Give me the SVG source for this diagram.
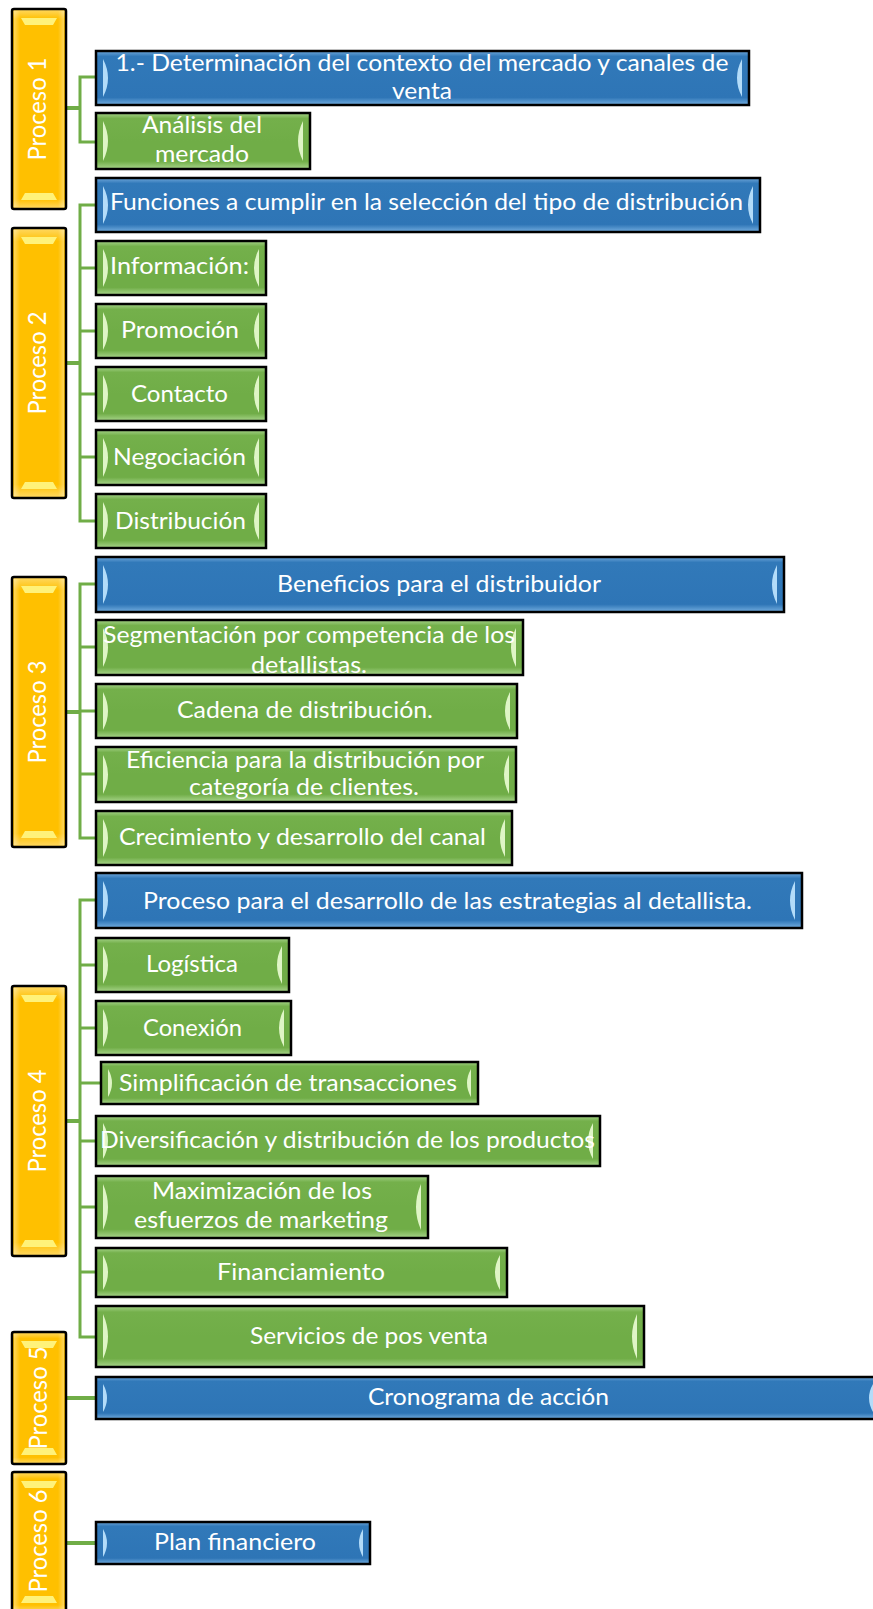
<svg xmlns="http://www.w3.org/2000/svg" width="873" height="1609" viewBox="0 0 873 1609">
  <defs>
    <linearGradient id="gGreen" x1="0" y1="0" x2="0" y2="1">
      <stop offset="0" stop-color="#a6d38a"/>
      <stop offset="0.1" stop-color="#74b04b"/>
      <stop offset="0.5" stop-color="#70AD47"/>
      <stop offset="0.86" stop-color="#70AD47"/>
      <stop offset="1" stop-color="#a9d68c"/>
    </linearGradient>
    <linearGradient id="gBlue" x1="0" y1="0" x2="0" y2="1">
      <stop offset="0" stop-color="#6fa7da"/>
      <stop offset="0.1" stop-color="#3179b9"/>
      <stop offset="0.86" stop-color="#2E75B6"/>
      <stop offset="1" stop-color="#74aee0"/>
    </linearGradient>
    <linearGradient id="gOrange" x1="0" y1="0" x2="0" y2="1">
      <stop offset="0" stop-color="#FFD966"/>
      <stop offset="0.05" stop-color="#FFC000"/>
      <stop offset="0.95" stop-color="#FFC000"/>
      <stop offset="1" stop-color="#FFD966"/>
    </linearGradient>
    <linearGradient id="gSide" x1="0" y1="0" x2="1" y2="0">
      <stop offset="0" stop-color="#fff" stop-opacity="0.35"/>
      <stop offset="0.12" stop-color="#fff" stop-opacity="0"/>
      <stop offset="0.88" stop-color="#fff" stop-opacity="0"/>
      <stop offset="1" stop-color="#fff" stop-opacity="0.35"/>
    </linearGradient>
    <style>
      .box{stroke:#000;stroke-width:2.5}
      .g{fill:url(#gGreen)}
      .b{fill:url(#gBlue)}
      .o{fill:url(#gOrange)}
      .side{fill:url(#gSide);stroke:none}
      .hg{fill:#dff5c6}
      .hb{fill:#b3dcf9}
      .ho{fill:#fff27a}
      .t{font-family:Lato,"Liberation Sans",sans-serif;font-size:23.5px;fill:#fff;text-anchor:middle}
      .pt{font-size:25px}
      .cn{fill:none;stroke:#70AD47;stroke-width:3}
      .stub{fill:none;stroke:#70AD47;stroke-width:4}
    </style>
  </defs>
  <rect width="873" height="1609" fill="#fff"/>

  <!-- tree connectors -->
  <g id="connectors">
    <path class="stub" d="M66 108 H80"/>
    <path class="cn" d="M96 77 H80 V142 H96"/>
    <path class="stub" d="M66 363 H80"/>
    <path class="cn" d="M96 205 H80 V521 H96 M80 268 H96 M80 331 H96 M80 394 H96 M80 457 H96"/>
    <path class="stub" d="M66 712 H80"/>
    <path class="cn" d="M96 584 H80 V838 H96 M80 647 H96 M80 711 H96 M80 774 H96"/>
    <path class="stub" d="M66 1121 H80"/>
    <path class="cn" d="M96 900 H80 V1337 H96 M80 965 H96 M80 1028 H96 M80 1083 H101 M80 1141 H96 M80 1207 H96 M80 1272 H96"/>
    <path class="stub" d="M66 1398 H96"/>
    <path class="stub" d="M66 1543 H96"/>
  </g>

  <!-- process headers -->
  <g id="proceso1">
    <rect class="box o" x="12" y="9" width="54" height="200" rx="2"/>
    <rect class="side" x="14" y="11" width="50" height="196"/>
    <path class="ho" d="M21 18 L57 18 L53 25 L25 25 Z M25 193 L53 193 L57 200 L21 200 Z"/>
    <text class="t pt" transform="translate(46,109) rotate(-90)" textLength="103" lengthAdjust="spacingAndGlyphs">Proceso 1</text>
  </g>
  <g id="proceso2">
    <rect class="box o" x="12" y="228" width="54" height="270" rx="2"/>
    <rect class="side" x="14" y="230" width="50" height="266"/>
    <path class="ho" d="M21 237 L57 237 L53 244 L25 244 Z M25 482 L53 482 L57 489 L21 489 Z"/>
    <text class="t pt" transform="translate(46,363) rotate(-90)" textLength="103" lengthAdjust="spacingAndGlyphs">Proceso 2</text>
  </g>
  <g id="proceso3">
    <rect class="box o" x="12" y="577" width="54" height="270" rx="2"/>
    <rect class="side" x="14" y="579" width="50" height="266"/>
    <path class="ho" d="M21 586 L57 586 L53 593 L25 593 Z M25 831 L53 831 L57 838 L21 838 Z"/>
    <text class="t pt" transform="translate(46,712) rotate(-90)" textLength="103" lengthAdjust="spacingAndGlyphs">Proceso 3</text>
  </g>
  <g id="proceso4">
    <rect class="box o" x="12" y="986" width="54" height="270" rx="2"/>
    <rect class="side" x="14" y="988" width="50" height="266"/>
    <path class="ho" d="M21 995 L57 995 L53 1002 L25 1002 Z M25 1240 L53 1240 L57 1247 L21 1247 Z"/>
    <text class="t pt" transform="translate(46,1121) rotate(-90)" textLength="103" lengthAdjust="spacingAndGlyphs">Proceso 4</text>
  </g>
  <g id="proceso5">
    <rect class="box o" x="12" y="1332" width="54" height="132" rx="2"/>
    <rect class="side" x="14" y="1334" width="50" height="128"/>
    <path class="ho" d="M21 1341 L57 1341 L53 1348 L25 1348 Z M25 1448 L53 1448 L57 1455 L21 1455 Z"/>
    <text class="t pt" transform="translate(47,1398) rotate(-90)" textLength="103" lengthAdjust="spacingAndGlyphs">Proceso 5</text>
  </g>
  <g id="proceso6">
    <rect class="box o" x="12" y="1472" width="54" height="140" rx="2"/>
    <rect class="side" x="14" y="1474" width="50" height="136"/>
    <path class="ho" d="M21 1481 L57 1481 L53 1488 L25 1488 Z M25 1596 L53 1596 L57 1603 L21 1603 Z"/>
    <text class="t pt" transform="translate(47,1541) rotate(-90)" textLength="103" lengthAdjust="spacingAndGlyphs">Proceso 6</text>
  </g>

  <!-- Proceso 1 items -->
  <g id="contexto">
    <rect class="box b" x="96" y="51" width="653" height="54"/>
    <path class="hb" d="M103 59 Q113 78 103 97 Z M742 59 Q732 78 742 97 Z"/>
    <text class="t" x="422" y="71" textLength="613" lengthAdjust="spacingAndGlyphs">1.- Determinación del contexto del mercado y canales de</text>
    <text class="t" x="422" y="99" textLength="60" lengthAdjust="spacingAndGlyphs">venta</text>
  </g>
  <g id="analisis">
    <rect class="box g" x="96" y="113" width="214" height="56"/>
    <path class="hg" d="M103 121 Q113 141 103 161 Z M303 121 Q293 141 303 161 Z"/>
    <text class="t" x="202" y="133" textLength="120" lengthAdjust="spacingAndGlyphs">Análisis del</text>
    <text class="t" x="202" y="162" textLength="94" lengthAdjust="spacingAndGlyphs">mercado</text>
  </g>

  <!-- Proceso 2 items -->
  <g id="funciones">
    <rect class="box b" x="96" y="178" width="664" height="54"/>
    <path class="hb" d="M103 186 Q113 205 103 224 Z M753 186 Q743 205 753 224 Z"/>
    <text class="t" x="426.5" y="210" textLength="633" lengthAdjust="spacingAndGlyphs">Funciones a cumplir en la selección del tipo de distribución</text>
  </g>
  <g id="informacion">
    <rect class="box g" x="96" y="241" width="170" height="54"/>
    <path class="hg" d="M103 249 Q113 268 103 287 Z M259 249 Q249 268 259 287 Z"/>
    <text class="t" x="179.5" y="274" textLength="139" lengthAdjust="spacingAndGlyphs">Información:</text>
  </g>
  <g id="promocion">
    <rect class="box g" x="96" y="304" width="170" height="54"/>
    <path class="hg" d="M103 312 Q113 331 103 350 Z M259 312 Q249 331 259 350 Z"/>
    <text class="t" x="180" y="338" textLength="118" lengthAdjust="spacingAndGlyphs">Promoción</text>
  </g>
  <g id="contacto">
    <rect class="box g" x="96" y="367" width="170" height="54"/>
    <path class="hg" d="M103 375 Q113 394 103 413 Z M259 375 Q249 394 259 413 Z"/>
    <text class="t" x="179.5" y="402" textLength="97" lengthAdjust="spacingAndGlyphs">Contacto</text>
  </g>
  <g id="negociacion">
    <rect class="box g" x="96" y="430" width="170" height="55"/>
    <path class="hg" d="M103 438 Q113 457.5 103 477 Z M259 438 Q249 457.5 259 477 Z"/>
    <text class="t" x="179.5" y="465" textLength="133" lengthAdjust="spacingAndGlyphs">Negociación</text>
  </g>
  <g id="distribucion">
    <rect class="box g" x="96" y="494" width="170" height="54"/>
    <path class="hg" d="M103 502 Q113 521 103 540 Z M259 502 Q249 521 259 540 Z"/>
    <text class="t" x="180.5" y="529" textLength="131" lengthAdjust="spacingAndGlyphs">Distribución</text>
  </g>

  <!-- Proceso 3 items -->
  <g id="beneficios">
    <rect class="box b" x="96" y="557" width="688" height="55"/>
    <path class="hb" d="M103 565 Q113 584.5 103 604 Z M777 565 Q767 584.5 777 604 Z"/>
    <text class="t" x="439" y="592" textLength="324" lengthAdjust="spacingAndGlyphs">Beneficios para el distribuidor</text>
  </g>
  <g id="segmentacion">
    <rect class="box g" x="96" y="620" width="427" height="55"/>
    <path class="hg" d="M103 628 Q113 647.5 103 667 Z M516 628 Q506 647.5 516 667 Z"/>
    <text class="t" x="309" y="643" textLength="412" lengthAdjust="spacingAndGlyphs">Segmentación por competencia de los</text>
    <text class="t" x="309" y="673" textLength="116" lengthAdjust="spacingAndGlyphs">detallistas.</text>
  </g>
  <g id="cadena">
    <rect class="box g" x="96" y="684" width="421" height="54"/>
    <path class="hg" d="M103 692 Q113 711 103 730 Z M510 692 Q500 711 510 730 Z"/>
    <text class="t" x="305" y="718" textLength="256" lengthAdjust="spacingAndGlyphs">Cadena de distribución.</text>
  </g>
  <g id="eficiencia">
    <rect class="box g" x="96" y="747" width="420" height="55"/>
    <path class="hg" d="M103 755 Q113 774.5 103 794 Z M509 755 Q499 774.5 509 794 Z"/>
    <text class="t" x="305" y="768" textLength="358" lengthAdjust="spacingAndGlyphs">Eficiencia para la distribución por</text>
    <text class="t" x="304" y="795" textLength="230" lengthAdjust="spacingAndGlyphs">categoría de clientes.</text>
  </g>
  <g id="crecimiento">
    <rect class="box g" x="96" y="811" width="416" height="54"/>
    <path class="hg" d="M103 819 Q113 838 103 857 Z M505 819 Q495 838 505 857 Z"/>
    <text class="t" x="302.5" y="845" textLength="367" lengthAdjust="spacingAndGlyphs">Crecimiento y desarrollo del canal</text>
  </g>

  <!-- Proceso 4 items -->
  <g id="estrategias">
    <rect class="box b" x="96" y="873" width="706" height="55"/>
    <path class="hb" d="M103 881 Q113 900.5 103 920 Z M795 881 Q785 900.5 795 920 Z"/>
    <text class="t" x="447.5" y="909" textLength="609" lengthAdjust="spacingAndGlyphs">Proceso para el desarrollo de las estrategias al detallista.</text>
  </g>
  <g id="logistica">
    <rect class="box g" x="96" y="938" width="193" height="54"/>
    <path class="hg" d="M103 946 Q113 965 103 984 Z M282 946 Q272 965 282 984 Z"/>
    <text class="t" x="192" y="972" textLength="92" lengthAdjust="spacingAndGlyphs">Logística</text>
  </g>
  <g id="conexion">
    <rect class="box g" x="96" y="1001" width="195" height="54"/>
    <path class="hg" d="M103 1009 Q113 1028 103 1047 Z M284 1009 Q274 1028 284 1047 Z"/>
    <text class="t" x="192.5" y="1036" textLength="99" lengthAdjust="spacingAndGlyphs">Conexión</text>
  </g>
  <g id="simplificacion">
    <rect class="box g" x="101" y="1062" width="377" height="42"/>
    <path class="hg" d="M108 1069 Q116 1083 108 1097 Z M471 1069 Q463 1083 471 1097 Z"/>
    <text class="t" x="288" y="1091" textLength="338" lengthAdjust="spacingAndGlyphs">Simplificación de transacciones</text>
  </g>
  <g id="diversificacion">
    <rect class="box g" x="96" y="1116" width="504" height="50"/>
    <path class="hg" d="M103 1123 Q113 1141 103 1159 Z M593 1123 Q583 1141 593 1159 Z"/>
    <text class="t" x="347.5" y="1148" textLength="495" lengthAdjust="spacingAndGlyphs">Diversificación y distribución de los productos</text>
  </g>
  <g id="maximizacion">
    <rect class="box g" x="96" y="1176" width="332" height="62"/>
    <path class="hg" d="M103 1184 Q113 1207 103 1230 Z M421 1184 Q411 1207 421 1230 Z"/>
    <text class="t" x="262" y="1199" textLength="220" lengthAdjust="spacingAndGlyphs">Maximización de los</text>
    <text class="t" x="261" y="1228" textLength="254" lengthAdjust="spacingAndGlyphs">esfuerzos de marketing</text>
  </g>
  <g id="financiamiento">
    <rect class="box g" x="96" y="1248" width="411" height="49"/>
    <path class="hg" d="M103 1255 Q113 1272.5 103 1290 Z M500 1255 Q490 1272.5 500 1290 Z"/>
    <text class="t" x="301" y="1280" textLength="168" lengthAdjust="spacingAndGlyphs">Financiamiento</text>
  </g>
  <g id="posventa">
    <rect class="box g" x="96" y="1306" width="548" height="61"/>
    <path class="hg" d="M103 1314 Q113 1336.5 103 1359 Z M637 1314 Q627 1336.5 637 1359 Z"/>
    <text class="t" x="369" y="1344" textLength="238" lengthAdjust="spacingAndGlyphs">Servicios de pos venta</text>
  </g>

  <!-- Proceso 5 item -->
  <g id="cronograma">
    <rect class="box b" x="96" y="1377" width="784" height="42"/>
    <path class="hb" d="M103 1384 Q111 1398 103 1412 Z M873 1384 Q865 1398 873 1412 Z"/>
    <text class="t" x="488.5" y="1405" textLength="241" lengthAdjust="spacingAndGlyphs">Cronograma de acción</text>
  </g>

  <!-- Proceso 6 item -->
  <g id="plan-financiero">
    <rect class="box b" x="96" y="1522" width="274" height="42"/>
    <path class="hb" d="M103 1529 Q111 1543 103 1557 Z M363 1529 Q355 1543 363 1557 Z"/>
    <text class="t" x="235" y="1550" textLength="162" lengthAdjust="spacingAndGlyphs">Plan financiero</text>
  </g>
</svg>
